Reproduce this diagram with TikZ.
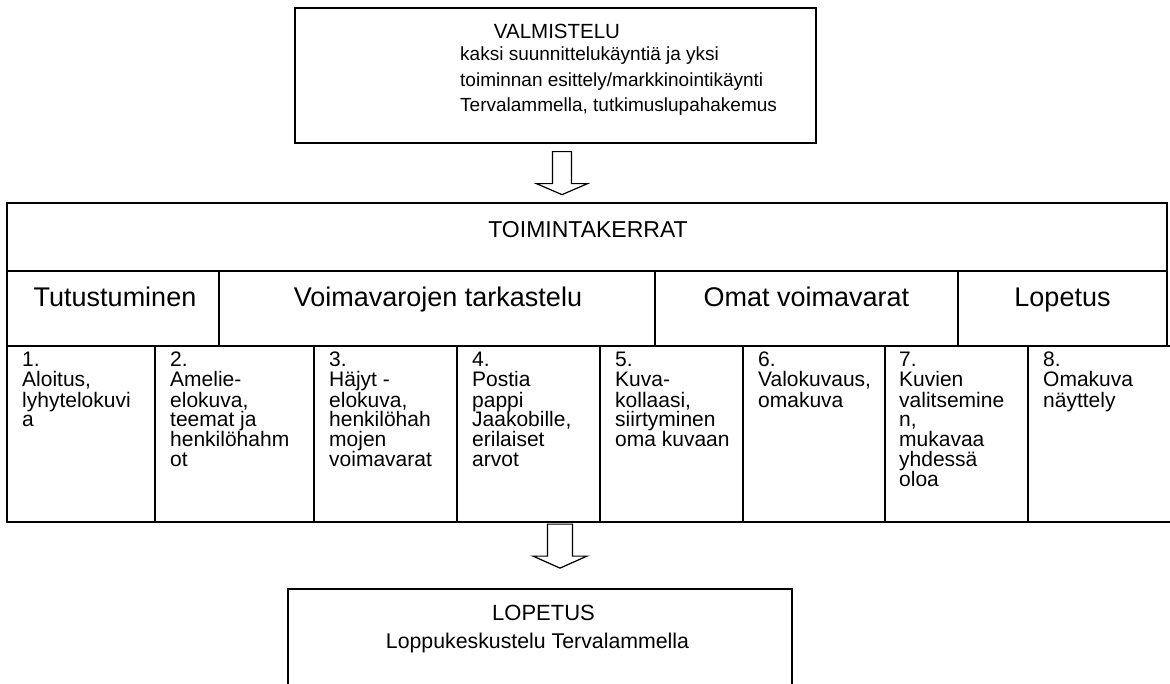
\documentclass[tikz,border=0pt]{standalone}
\usepackage{fontspec}
\setmainfont{Liberation Sans}
\usetikzlibrary{calc}
\newcommand\celltext[1]{\parbox[t]{140pt}{\fontsize{21}{20}\selectfont\raggedright #1}}
\begin{document}
\begin{tikzpicture}[x=1pt,y=-1pt,
  box/.style={draw=black, line width=1.3pt, inner sep=0pt},
  cellbox/.style={draw=black, line width=2.2pt, inner sep=0pt},
  hollow/.style={draw=black, line width=1.2pt, fill=white, line join=miter},
  txt/.style={inner sep=0pt, anchor=base},
  ctxt/.style={inner sep=0pt, anchor=base west}]
\useasboundingbox (0,0) rectangle (1170,684);

% VALMISTELU box
\node[box, minimum width=521pt, minimum height=135pt] (valm) at (555.5,75.5) {};
\node[txt, font=\fontsize{20.5}{24}\selectfont] (valmt) at (557,39) {VALMISTELU};
\node[ctxt] (valmb) at (460,61) {\parbox[t]{345pt}{\fontsize{19}{25.5}\selectfont\raggedright
  kaksi suunnittelukäyntiä ja yksi\\
  toiminnan esittely/markkinointikäynti\\
  Tervalammella, tutkimuslupahakemus}};

% arrow 1
\coordinate (a1) at ($(valm.south)+(6.5,8)$);
\draw[hollow] ($(a1)+(-9.5,0)$) -- ($(a1)+(9.5,0)$) -- ($(a1)+(9.5,32)$) -- ($(a1)+(25.5,32)$)
  -- ($(a1)+(0,43)$) -- ($(a1)+(-25.5,32)$) -- ($(a1)+(-9.5,32)$) -- cycle;

% TOIMINTAKERRAT table
\node[box, minimum width=1160pt, minimum height=68pt] (toim) at (587,237) {};
\node[txt, font=\fontsize{23}{27}\selectfont] (toimt) at (588,238) {TOIMINTAKERRAT};

\node[box, minimum width=212pt, minimum height=75pt] (tut) at (113,308.5) {};
\node[box, minimum width=436pt, minimum height=75pt] (voim) at (437,308.5) {};
\node[box, minimum width=303pt, minimum height=75pt] (omat) at (806.5,308.5) {};
\node[box, minimum width=209pt, minimum height=75pt] (lop) at (1062.5,308.5) {};
\node[txt, font=\fontsize{27}{32}\selectfont] (tutt) at (115,307) {Tutustuminen};
\node[txt, font=\fontsize{27}{32}\selectfont] (voimt) at (438,307) {Voimavarojen tarkastelu};
\node[txt, font=\fontsize{27}{32}\selectfont] (omatt) at (806.5,307) {Omat voimavarat};
\node[txt, font=\fontsize{27}{32}\selectfont] (lopt) at (1062.5,307) {Lopetus};

% session cells
\node[cellbox, minimum width=148pt, minimum height=176pt] (c1) at (81,434) {};
\node[cellbox, minimum width=159pt, minimum height=176pt] (c2) at (234.5,434) {};
\node[cellbox, minimum width=143pt, minimum height=176pt] (c3) at (385.5,434) {};
\node[cellbox, minimum width=143pt, minimum height=176pt] (c4) at (528.5,434) {};
\node[cellbox, minimum width=143pt, minimum height=176pt] (c5) at (671.5,434) {};
\node[cellbox, minimum width=142pt, minimum height=176pt] (c6) at (814,434) {};
\node[cellbox, minimum width=143pt, minimum height=176pt] (c7) at (956.5,434) {};
\node[cellbox, minimum width=160pt, minimum height=176pt] (c8) at (1108,434) {};

\node[ctxt] (c1t) at (22,367) {\celltext{1.\\Aloitus,\\lyhytelokuvi\\a}};
\node[ctxt] (c2t) at (170,367) {\celltext{2.\\Amelie-\\elokuva,\\teemat ja\\henkilöhahm\\ot}};
\node[ctxt] (c3t) at (329,367) {\celltext{3.\\Häjyt -\\elokuva,\\henkilöhah\\mojen\\voimavarat}};
\node[ctxt] (c4t) at (472,367) {\celltext{4.\\Postia\\pappi\\Jaakobille,\\erilaiset\\arvot}};
\node[ctxt] (c5t) at (615,367) {\celltext{5.\\Kuva-\\kollaasi,\\siirtyminen\\oma kuvaan}};
\node[ctxt] (c6t) at (758,367) {\celltext{6.\\Valokuvaus,\\omakuva}};
\node[ctxt] (c7t) at (899,367) {\celltext{7.\\Kuvien\\valitsemine\\n,\\mukavaa\\yhdessä\\oloa}};
\node[ctxt] (c8t) at (1043,367) {\celltext{8.\\Omakuva\\näyttely}};

% arrow 2
\coordinate (a2) at ($(c4.south)+(31.5,1)$);
\draw[hollow] ($(a2)+(-12.5,0)$) -- ($(a2)+(12.5,0)$) -- ($(a2)+(12.5,32)$) -- ($(a2)+(27,32)$)
  -- ($(a2)+(0,44)$) -- ($(a2)+(-27,32)$) -- ($(a2)+(-12.5,32)$) -- cycle;

% LOPETUS box
\node[box, minimum width=504pt, minimum height=111pt] (lopb) at (540,644.5) {};
\node[txt, font=\fontsize{22}{26}\selectfont] (lopbt) at (543.5,620) {LOPETUS};
\node[txt, font=\fontsize{21.3}{25}\selectfont] (lopbb) at (537.5,648) {Loppukeskustelu Tervalammella};
\end{tikzpicture}
\end{document}
